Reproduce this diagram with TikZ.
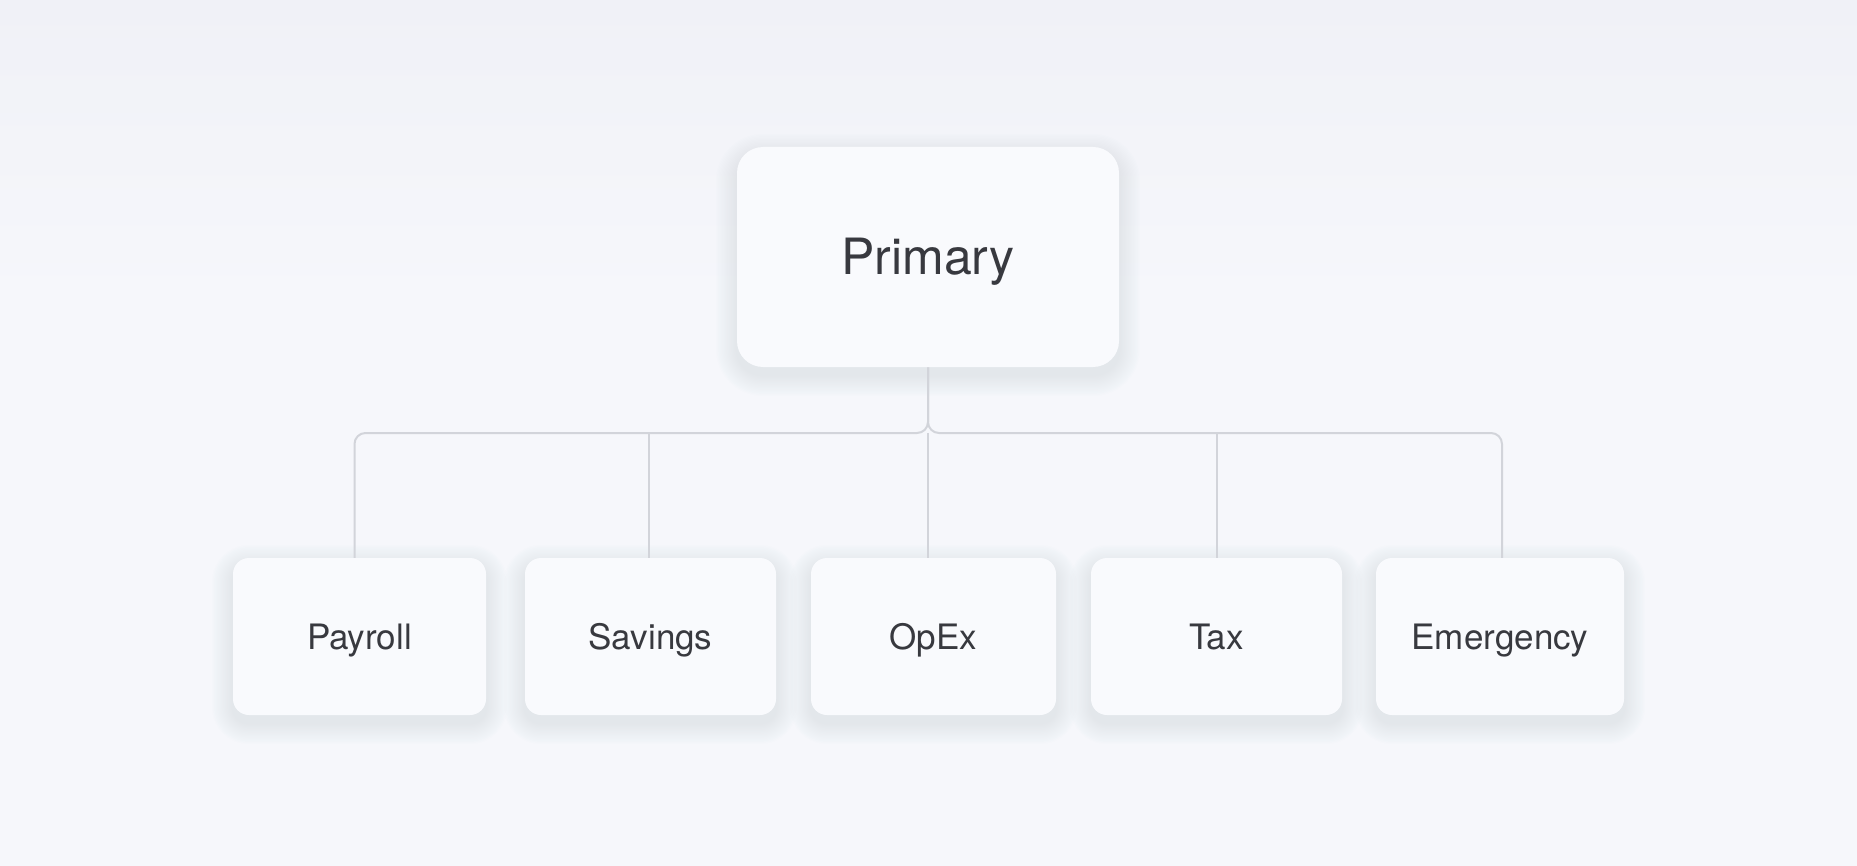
\documentclass[tikz,border=0pt]{standalone}
\usepackage{fontspec}
\setmainfont{TeX Gyre Heros}
\definecolor{bgtop}{HTML}{F0F1F7}
\definecolor{bgbot}{HTML}{F6F7FB}
\definecolor{boxfill}{HTML}{F9FAFD}
\definecolor{linecol}{HTML}{D2D4DA}
\definecolor{txtcol}{HTML}{38393F}
\definecolor{shadcol}{HTML}{9CA2C8}
\pgfdeclarelayer{bg}
\pgfdeclarelayer{shadow}
\pgfsetlayers{bg,shadow,main}
\tikzset{
  card/.style={draw=none, fill=boxfill, rounded corners=#1, inner sep=0pt, text=txtcol},
  topcard/.style={card=26pt, minimum width=382pt, minimum height=220pt, font=\fontsize{50}{60}\selectfont,
    text height=45pt, text depth=9.15pt},
  leafcard/.style={card=16pt, minimum width=250pt, minimum height=157pt, font=\fontsize{35}{42}\selectfont,
    text height=31.5pt, text depth=6.4pt},
  conn/.style={draw=linecol, line width=2pt, rounded corners=11pt},
  shadlayer/.style={fill=shadcol, fill opacity=0.012}
}
\newcommand{\mycardshadow}[2]{%
  \begin{pgfonlayer}{shadow}
  \foreach \i in {1,...,16}{
    \fill[shadlayer, rounded corners=#2+\i*1.3pt]
      ([xshift=-\i*1.3pt, yshift=\i*1.3pt-8pt]#1.north west) rectangle
      ([xshift=\i*1.3pt, yshift=-\i*1.3pt-8pt]#1.south east);
  }
  \end{pgfonlayer}}
\begin{document}
\begin{tikzpicture}[x=1pt,y=-1pt]
\useasboundingbox (0,0) rectangle (1857,866);
\begin{pgfonlayer}{bg}
\fill[bgbot] (0,300) rectangle (1857,866);
\shade[top color=bgtop, bottom color=bgbot] (0,0) rectangle (1857,300);
\end{pgfonlayer}

% cards
\node[topcard] (primary) at (928,257) {Primary};
\node[leafcard, minimum width=253pt] (payroll) at (359.5,636.5) {Payroll};
\node[leafcard, minimum width=251pt] (savings) at (650.5,636.5) {Savings};
\node[leafcard, minimum width=245pt] (opex) at (933.5,636.5) {OpEx};
\node[leafcard, minimum width=251pt] (tax) at (1216.5,636.5) {Tax};
\node[leafcard, minimum width=248pt] (emergency) at (1500,636.5) {Emergency};

\mycardshadow{primary}{26pt}
\mycardshadow{payroll}{16pt}
\mycardshadow{savings}{16pt}
\mycardshadow{opex}{16pt}
\mycardshadow{tax}{16pt}
\mycardshadow{emergency}{16pt}

% connectors
\coordinate (bus) at (primary.south |- 0,433);
\begin{pgfonlayer}{shadow}
\draw[conn] (primary.south) -- (bus) -| ([xshift=-5pt]payroll.north);
\draw[conn] (primary.south) -- (bus) -| ([xshift=2pt]emergency.north);
\draw[conn, rounded corners=0pt] (bus) -- (bus |- opex.north);
\draw[conn, rounded corners=0pt] ([xshift=-2pt]savings.north |- bus) -- ([xshift=-2pt]savings.north);
\draw[conn, rounded corners=0pt] (tax.north |- bus) -- (tax.north);
\end{pgfonlayer}
\end{tikzpicture}
\end{document}
